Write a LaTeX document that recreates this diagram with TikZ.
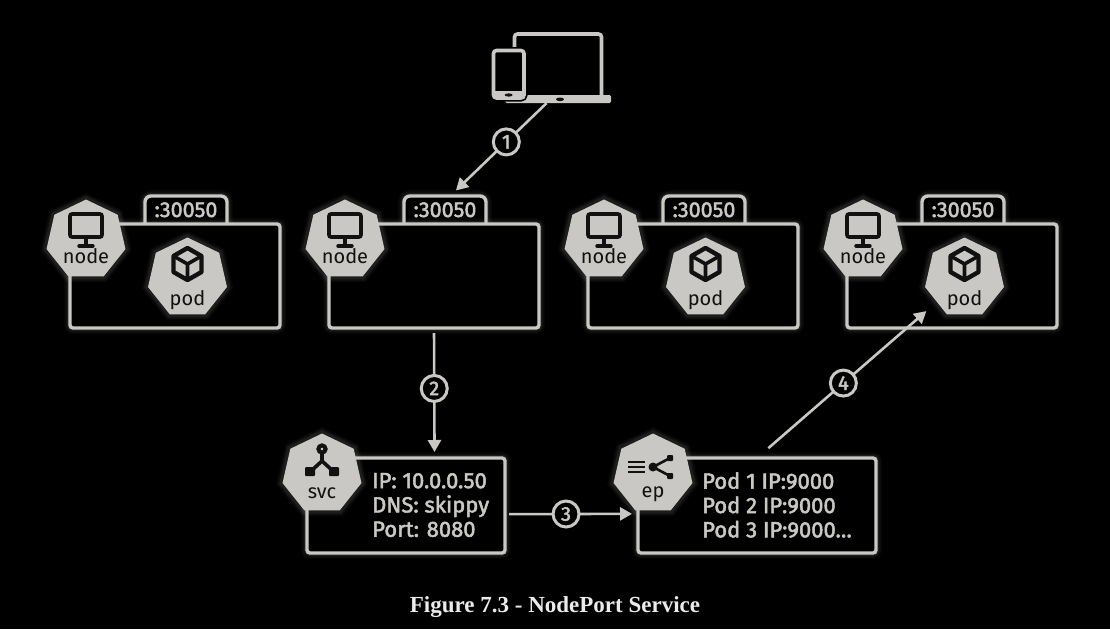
\documentclass[tikz,border=0pt]{standalone}
\usepackage{fontspec}
\setmainfont{Fira Sans}
\newfontfamily\mediumfont{Fira Sans}[FakeBold=2.2]
\newfontfamily\captionfont{Liberation Serif}[Scale=1]
\usetikzlibrary{shapes.geometric,arrows.meta}
\definecolor{Ink}{HTML}{C9C8C4}
\definecolor{Dark}{HTML}{111111}

\begin{document}
\begin{tikzpicture}[x=1pt,y=-1pt]
  \tikzset{Glow/.style = {
    preaction = {draw = Ink, line width = 12pt, opacity = .03},
    preaction = {draw = Ink, line width = 9pt, opacity = .05},
    preaction = {draw = Ink, line width = 6pt, opacity = .08}
    }
  }
  \tikzset{BoxStyle/.style = {
    shape         = rectangle,
    Glow,
    draw          = Ink,
    fill          = black,
    line width    = 3.4pt,
    rounded corners = 3pt,
    inner sep     = 0pt,
    outer sep     = 0pt
    }
  }
  \tikzset{TabStyle/.style = {
    BoxStyle,
    rounded corners = 6pt,
    minimum width = 82pt,
    text          = Ink,
    text height   = 21pt,
    text depth    = 15pt,
    font          = \mediumfont\fontsize{21.5}{24}\selectfont
    }
  }
  \tikzset{HeptStyle/.style = {
    shape         = regular polygon,
    regular polygon sides = 7,
    Glow,
    fill          = Ink,
    minimum size  = 81pt,
    inner sep     = 0pt,
    outer sep     = 0pt
    }
  }
  \tikzset{HeptTextStyle/.style = {
    anchor        = base,
    text          = Dark,
    inner sep     = 0pt,
    font          = \fontsize{20}{24}\selectfont
    }
  }
  \tikzset{InfoStyle/.style = {
    anchor        = west,
    align         = left,
    text          = Ink,
    inner sep     = 0pt,
    font          = \mediumfont\fontsize{22}{24.3}\selectfont
    }
  }
  \tikzset{StepStyle/.style = {
    shape         = circle,
    draw          = Ink,
    fill          = black,
    line width    = 3pt,
    minimum size  = 26pt,
    inner sep     = 0pt,
    text          = Ink,
    font          = \mediumfont\fontsize{20}{20}\selectfont
    }
  }
  \tikzset{FlowStyle/.style = {
    draw          = Ink,
    line width    = 2.6pt,
    -{Triangle[width=13pt,length=12pt]}
    }
  }
  \tikzset{
    pics/monitor/.style = {code = {
      \draw[Dark, line width=3.6pt, rounded corners=2pt] (-16,-26) rectangle (16,-3);
      \draw[Dark, line width=3.6pt] (0,-3) -- (0,5);
      \draw[Dark, line width=3.4pt, line cap=round] (-7,6) -- (7,6);
    }},
    pics/cube/.style = {code = {
      \draw[Dark, line width=4.4pt, line join=round]
        (0,-30) -- (14,-22) -- (14,-6) -- (0,2) -- (-14,-6) -- (-14,-22) -- cycle;
      \draw[Dark, line width=3.6pt, line join=round]
        (-14,-22) -- (0,-14) -- (14,-22) (0,-14) -- (0,2);
    }},
    pics/fork/.style = {code = {
      \draw[Dark, line width=4pt] (0,-25) circle (3.6);
      \draw[Dark, line width=3.6pt] (0,-20) -- (0,-13) -- (-11,-3) (0,-13) -- (11,-3);
      \fill[Dark, rounded corners=1pt] (-17,-7) rectangle (-7,2);
      \fill[Dark, rounded corners=1pt] (7,-7) rectangle (17,2);
    }},
    pics/endpoints/.style = {code = {
      \draw[Dark, line width=1.6pt] (-25,-12) -- (-8,-12) (-25,-7) -- (-8,-7) (-25,-2) -- (-8,-2);
      \fill[Dark] (0,-7) circle (4.5);
      \draw[Dark, line width=2.6pt] (17,-16) -- (0,-7) -- (17,2);
      \fill[Dark, rounded corners=1pt] (14,-19) rectangle (20,-13);
      \fill[Dark, rounded corners=1pt] (14,-1) rectangle (20,5);
    }}
  }

	\useasboundingbox[fill=black] (0,0) rectangle (1110,629);

	% devices
	\node[minimum width=119pt, minimum height=71pt, inner sep=0pt](Devices) at (551.5,67.5) {};
	\draw[Ink, line width=3.6pt, rounded corners=3pt] (514.5,96) -- (514.5,34) -- (601.5,34) -- (601.5,96);
	\fill[Ink, rounded corners=1.5pt] (505,95) rectangle (611,103);
	\fill[Dark] (560,99.3) ellipse (4 and 1.8);
	\draw[Ink, fill=black, line width=3.6pt, rounded corners=3pt, preaction={draw=black, line width=7pt}] (493.5,50.5) rectangle (524,98);
	\fill[Ink] (493.5,91) rectangle (524,98);
	\fill[Dark] (508.7,95) ellipse (4 and 1.6);

	% worker nodes
	\node[TabStyle, minimum height=36pt](Tab1) at (186,214) {:30050};
	\node[TabStyle, minimum height=36pt](Tab2) at (445,214) {:30050};
	\node[TabStyle, minimum height=36pt](Tab3) at (704,214) {:30050};
	\node[TabStyle, minimum height=36pt](Tab4) at (963,214) {:30050};
	\node[BoxStyle, minimum width=210pt, minimum height=104pt](Box1) at (175,276) {};
	\node[BoxStyle, minimum width=210pt, minimum height=104pt](Box2) at (434,276) {};
	\node[BoxStyle, minimum width=210pt, minimum height=104pt](Box3) at (693,276) {};
	\node[BoxStyle, minimum width=210pt, minimum height=104pt](Box4) at (952,276) {};
	\node[HeptStyle](Node1) at (86,240) {};
	\node[HeptStyle](Node2) at (345,240) {};
	\node[HeptStyle](Node3) at (604,240) {};
	\node[HeptStyle](Node4) at (863,240) {};
	\pic at (86,240) {monitor};
	\pic at (345,240) {monitor};
	\pic at (604,240) {monitor};
	\pic at (863,240) {monitor};
	\node[HeptTextStyle](NodeText1) at (86,263) {node};
	\node[HeptTextStyle](NodeText2) at (345,263) {node};
	\node[HeptTextStyle](NodeText3) at (604,263) {node};
	\node[HeptTextStyle](NodeText4) at (863,263) {node};

	% pods
	\node[HeptStyle](Pod1) at (187.5,278) {};
	\node[HeptStyle](Pod3) at (705.5,278) {};
	\node[HeptStyle](Pod4) at (964.5,278) {};
	\pic at (187.5,278) {cube};
	\pic at (705.5,278) {cube};
	\pic at (964.5,278) {cube};
	\node[HeptTextStyle](PodText1) at (187.5,305) {pod};
	\node[HeptTextStyle](PodText3) at (705.5,305) {pod};
	\node[HeptTextStyle](PodText4) at (964.5,305) {pod};

	% service and endpoints
	\node[BoxStyle, minimum width=198pt, minimum height=95pt](SvcBox) at (406,505.5) {};
	\node[BoxStyle, minimum width=238pt, minimum height=95pt](EpBox) at (757,505.5) {};
	\node[HeptStyle](Svc) at (322,474) {};
	\node[HeptStyle](Ep) at (653,474) {};
	\pic at (322,474) {fork};
	\pic at (653,474) {endpoints};
	\node[HeptTextStyle](SvcText) at (322,498.5) {svc};
	\node[HeptTextStyle](EpText) at (653,497) {ep};
	\node[InfoStyle](SvcInfo) at (372,505) {IP: 10.0.0.50\\DNS: skippy\\Port: 8080};
	\node[InfoStyle](EpInfo) at (702,505) {Pod 1 IP:9000\\Pod 2 IP:9000\\Pod 3 IP:9000\dots};

	% flow
	\draw[FlowStyle, shorten >=8pt](Devices.-98.8) to node[StepStyle, pos=.417](Step1){1} (Tab2.74.5);
	\draw[FlowStyle, shorten <=5pt, shorten >=6pt](Box2.south) to node[StepStyle, pos=.465](Step2){2} (SvcBox.59);
	\draw[FlowStyle, shorten <=4pt, shorten >=6pt](SvcBox.-5) to node[StepStyle, pos=.459](Step3){3} (EpBox.184.1);
	\draw[FlowStyle, shorten <=15pt, shorten >=14pt](EpBox.north) to node[StepStyle, pos=.48](Step4){4} (Pod4);

	\node[text=white!92!black, inner sep=0pt, font=\captionfont\bfseries\fontsize{23}{26}\selectfont](Caption) at (555,607) {Figure 7.3 - NodePort Service};
\end{tikzpicture}
\end{document}
